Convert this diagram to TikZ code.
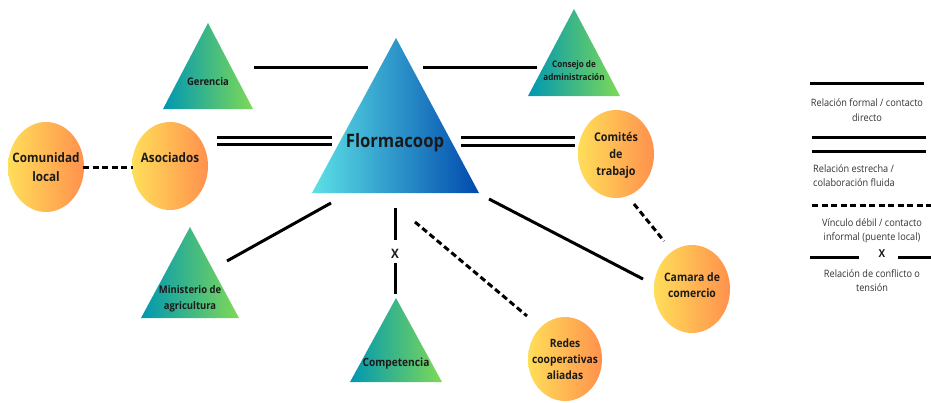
\documentclass[tikz,border=0pt]{standalone}
\usepackage{fontspec}
\setmainfont{Open Sans}[FakeStretch=0.9]
\usetikzlibrary{shapes.geometric}
\definecolor{orA}{HTML}{FFDE59}
\definecolor{orB}{HTML}{FF914D}
\definecolor{grA}{HTML}{0097B2}
\definecolor{grB}{HTML}{7ED957}
\definecolor{blA}{HTML}{5CE1E6}
\definecolor{blB}{HTML}{004AAD}
\definecolor{txt}{HTML}{1A1A1A}
\definecolor{legtxt}{HTML}{333333}
\begin{document}
\begin{tikzpicture}[x=1pt,y=-1pt,
  oval/.style={ellipse, minimum width=76pt, minimum height=88pt, inner sep=0pt, left color=orA, right color=orB, draw=none},
  lbl/.style={font=\bfseries\fontsize{#1}{16}\selectfont, text=txt, align=center, inner sep=0pt},
  lbl/.default=12,
  rel/.style={line width=3pt, draw=black},
  reldbl/.style={line width=3pt, double distance=4.6pt, draw=black},
  weak/.style={line width=3pt, draw=black, dash pattern=on 6pt off 3.5pt},
  leg/.style={font=\fontsize{10.2}{14.5}\selectfont, text=legtxt, align=center, inner sep=0pt},
  greentri/.style={left color=grA, right color=grB},
]
\useasboundingbox (0,0) rectangle (931,402);

% ---- triangles
\shade[left color=blA, right color=blB] (396,38) -- (479,193) -- (312,193) -- cycle;
\node[lbl=18.5] (flo) at (395,143) {Flormacoop};

\shade[greentri] (208,23) -- (253,109) -- (163,109) -- cycle;
\node[lbl=10.5] (ger) at (208,82) {Gerencia};

\shade[greentri] (574,9) -- (620,96) -- (528,96) -- cycle;
\node[lbl=9, font=\bfseries\fontsize{9}{12.5}\selectfont] (con) at (574,70.5) {Consejo de\\administración};

\shade[greentri] (190,227) -- (239,318) -- (141,318) -- cycle;
\node[lbl=10.5, font=\bfseries\fontsize{10.5}{15.5}\selectfont] (min) at (190,299) {Ministerio de\\agricultura};

\shade[greentri] (396,298) -- (442,382) -- (350,382) -- cycle;
\node[lbl=11.3] (com) at (396,364) {Competencia};

% ---- ellipses
\node[oval, minimum height=90pt] (cl) at (46,167) {};
\node[lbl=13, font=\bfseries\fontsize{13}{19}\selectfont] at (46,167.5) {Comunidad\\local};

\node[oval] (aso) at (170,166) {};
\node[lbl=13] at (170,158) {Asociados};

\node[oval] (cte) at (616,154) {};
\node[lbl=12, font=\bfseries\fontsize{12}{17}\selectfont] at (616,155) {Comités\\de\\trabajo};

\node[oval] (cam) at (692,289) {};
\node[lbl=11.6] at (692,285) {Camara de\\comercio};

\node[oval, minimum width=74pt, minimum height=84pt] (red) at (565,359) {};
\node[lbl=11.4] at (565,359) {Redes\\cooperativas\\aliadas};

% ---- connector end points
\coordinate (gerE) at (254,67);   \coordinate (floW) at (368,67);
\coordinate (floE) at (423,67);   \coordinate (conW) at (537,67);
\coordinate (asoE) at (217,141);  \coordinate (floL) at (332,141);
\coordinate (floR) at (461,141.5);\coordinate (cteW) at (575,141.5);
\coordinate (clE) at (83,167);    \coordinate (asoW) at (133,167);
\coordinate (floSW) at (331,203); \coordinate (minNE) at (227,261);
\coordinate (floS) at (395,208);  \coordinate (xa) at (395,240);
\coordinate (xb) at (395,263);    \coordinate (comN) at (395,294);
\coordinate (floSd) at (415,222); \coordinate (redN) at (527,316);
\coordinate (floSE) at (489,199); \coordinate (camW) at (643,279);
\coordinate (cteS) at (634,204);  \coordinate (camN) at (664,241);

\draw[rel] (gerE) -- (floW);
\draw[rel] (floE) -- (conW);
\draw[reldbl] (asoE) -- (floL);
\draw[reldbl] (floR) -- (cteW);
\draw[weak] (clE) -- (asoW);
\draw[rel] (floSW) -- (minNE);
\draw[rel] (floS) -- (xa);
\node[lbl=13] (xmark) at (395,254) {X};
\draw[rel] (xb) -- (comN);
\draw[weak] (floSd) -- (redN);
\draw[rel] (floSE) -- (camW);
\draw[weak] (cteS) -- (camN);

% ---- legend
\coordinate (l1a) at (810,83);  \coordinate (l1b) at (924,83);
\draw[rel] (l1a) -- (l1b);
\node[leg] (t1) at (867,110) {Relación formal / contacto\\directo};

\coordinate (l2a) at (812,144); \coordinate (l2b) at (926,144);
\draw[line width=3pt, double distance=11pt] (l2a) -- (l2b);
\node[leg, align=left, anchor=west] (t2) at (813,175.5) {Relación estrecha /\\colaboración fluida};

\coordinate (l3a) at (812,205); \coordinate (l3b) at (931,205);
\draw[weak] (l3a) -- (l3b);
\node[leg] (t3) at (872,231) {Vínculo débil / contacto\\informal (puente local)};

\coordinate (l4a) at (810,257); \coordinate (l4b) at (859,257);
\coordinate (l4c) at (898,257); \coordinate (l4d) at (931,257);
\draw[rel] (l4a) -- (l4b);
\node[lbl=11] (lx) at (882,254) {X};
\draw[rel] (l4c) -- (l4d);
\node[leg] (t4) at (872,280.5) {Relación de conflicto o\\tensión};
\end{tikzpicture}
\end{document}
